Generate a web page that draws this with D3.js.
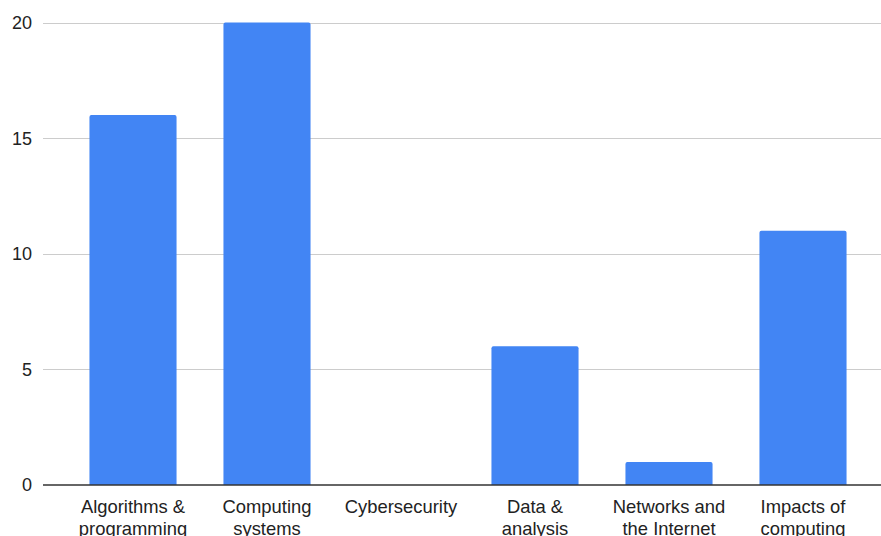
<!DOCTYPE html>
<html>
<head>
<meta charset="utf-8">
<script src="https://cdn.jsdelivr.net/npm/d3@7"></script>
<style>
  html, body { margin: 0; padding: 0; background: #fff; }
  svg { display: block; font-family: "Liberation Sans", Arial, sans-serif; }
</style>
</head>
<body>
<svg id="chart" width="881" height="536"></svg>
<script>
// Topics and counts per topic
const categories = [
  ["Algorithms &", "programming"],
  ["Computing", "systems"],
  ["Cybersecurity"],
  ["Data &", "analysis"],
  ["Networks and", "the Internet"],
  ["Impacts of", "computing"]
];
const values = [16, 20, 0, 6, 1, 11];
const yTicks = [0, 5, 10, 15, 20];

const svg = d3.select("#chart");
const gridLeft = 43, gridRight = 881;
const yTop = 22.5, yBottom = 485;

const keys = categories.map(c => c.join(" "));
const x = d3.scaleBand()
  .domain(keys)
  .range([66, 870])
  .paddingInner(0.35)
  .paddingOuter(0.175);

const y = d3.scaleLinear().domain([0, 20]).range([yBottom, yTop]);

// Horizontal gridlines
svg.append("g")
  .selectAll("line")
  .data(yTicks.filter(t => t !== 0))
  .join("line")
  .attr("x1", gridLeft).attr("x2", gridRight)
  .attr("y1", d => Math.round(y(d)) + 0.5)
  .attr("y2", d => Math.round(y(d)) + 0.5)
  .attr("stroke", "#cccccc")
  .attr("stroke-width", 1.2);

// Y tick labels
svg.append("g")
  .selectAll("text")
  .data(yTicks)
  .join("text")
  .attr("x", 32)
  .attr("y", d => y(d))
  .attr("dy", "0.36em")
  .attr("text-anchor", "end")
  .attr("font-size", 18)
  .attr("fill", "#222")
  .text(d => d);

// Bars with slightly rounded top corners
const r = 2;
function barPath(x0, w, yT, yB) {
  return `M${x0},${yB}V${yT + r}Q${x0},${yT} ${x0 + r},${yT}H${x0 + w - r}Q${x0 + w},${yT} ${x0 + w},${yT + r}V${yB}Z`;
}
svg.append("g")
  .selectAll("path")
  .data(values.map((v, i) => ({ key: keys[i], v })).filter(d => d.v > 0))
  .join("path")
  .attr("d", d => barPath(x(d.key), x.bandwidth(), y(d.v), y(0)))
  .attr("fill", "#4285f4");

// Baseline
svg.append("line")
  .attr("x1", gridLeft).attr("x2", gridRight)
  .attr("y1", y(0)).attr("y2", y(0))
  .attr("stroke", "#333")
  .attr("stroke-width", 1.5);

// Category labels (wrapped onto two lines)
const lab = svg.append("g")
  .selectAll("text")
  .data(categories)
  .join("text")
  .attr("text-anchor", "middle")
  .attr("font-size", 18.4)
  .attr("fill", "#222");
lab.each(function (lines, i) {
  const cx = x(keys[i]) + x.bandwidth() / 2;
  d3.select(this).selectAll("tspan")
    .data(lines)
    .join("tspan")
    .attr("x", cx)
    .attr("y", (d, j) => 512.5 + j * 22)
    .text(d => d);
});
</script>
</body>
</html>
